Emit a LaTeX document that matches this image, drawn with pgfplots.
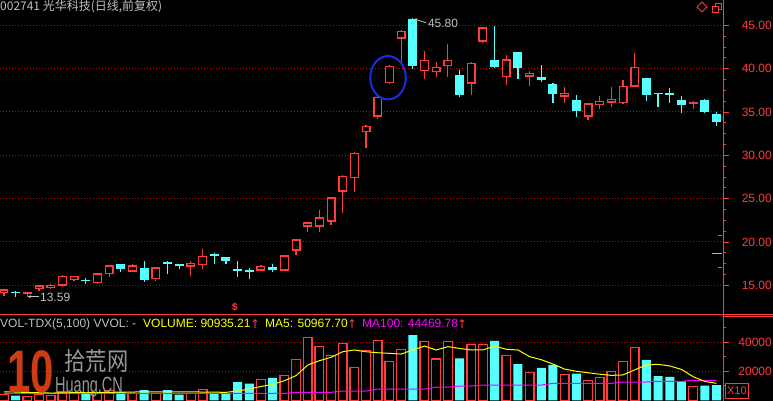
\documentclass[border=0pt]{standalone}
\usepackage{fontspec}
\setmainfont{Liberation Sans}
\newfontfamily\cjk{Noto Sans CJK SC}
\newfontfamily\dejavu{DejaVu Sans}
\usepackage{pgfplots}
\usepackage{pgfplotstable}
\pgfplotsset{compat=1.18}
\usetikzlibrary{arrows.meta}

\definecolor{tdxred}{RGB}{255,59,59}
\definecolor{tdxcyan}{RGB}{84,255,255}
\definecolor{gridred}{RGB}{200,0,0}
\definecolor{txtgray}{RGB}{192,192,192}
\definecolor{tdxyellow}{RGB}{255,255,0}
\definecolor{tdxmag}{RGB}{255,0,255}
\definecolor{ellblue}{RGB}{25,45,225}
\definecolor{wmred}{RGB}{205,60,20}
\definecolor{wmgray}{RGB}{150,150,150}

% up (red, hollow) candles: index, open, high, low, close
\pgfplotstableread{
i o h l c
0 14.08 14.60 13.80 14.54
2 13.96 14.28 13.59 14.23
3 14.54 15.05 14.31 15.00
4 14.65 15.10 14.60 15.03
5 14.95 16.22 14.80 16.07
6 15.58 16.12 15.55 16.07
8 15.23 16.42 15.20 16.38
9 16.30 17.35 15.92 17.31
11 16.57 17.46 16.52 17.31
13 15.73 17.12 15.53 17.08
16 17.15 17.77 16.07 17.61
17 17.31 19.19 16.92 18.38
22 16.68 17.35 16.60 17.28
24 16.68 18.50 16.65 18.46
25 18.99 20.35 18.50 20.31
26 21.76 22.30 21.18 22.27
27 21.76 23.69 21.18 22.85
28 22.34 25.20 21.96 25.15
29 25.80 27.70 23.38 27.65
30 27.35 30.35 25.80 30.30
31 32.65 33.45 30.88 33.41
32 34.45 36.80 34.19 36.76
33 38.31 40.38 38.28 40.34
34 43.46 44.42 40.61 44.38
36 39.73 42.04 38.77 41.00
37 39.61 40.73 39.07 40.23
38 40.31 42.84 39.07 41.00
40 38.26 40.75 36.96 40.69
41 43.11 44.80 42.99 44.77
43 39.00 41.57 38.11 41.08
45 39.07 39.73 38.03 39.50
48 36.76 37.92 36.07 37.22
50 34.45 36.05 34.07 36.00
51 35.80 36.84 35.34 36.27
52 36.07 37.92 35.61 36.50
53 36.00 38.69 35.96 38.03
54 37.92 41.84 37.85 40.23
59 35.88 36.30 35.34 36.15
}\upT

% down (cyan, filled) candles
\pgfplotstableread{
i o h l c
1 14.24 14.38 13.65 14.06
7 15.62 15.88 15.18 15.44
10 17.46 17.50 16.50 16.92
12 17.00 17.84 15.42 15.61
14 17.63 17.84 16.34 17.45
15 17.46 17.50 16.85 17.23
18 18.59 18.76 17.46 18.41
19 18.23 18.27 17.42 17.84
20 16.86 17.80 15.96 16.68
21 16.74 17.03 15.69 16.56
23 17.10 17.46 16.55 16.72
35 45.75 45.80 39.92 40.30
39 39.23 39.84 36.77 36.96
42 41.00 44.92 40.15 40.23
44 41.92 41.96 38.80 40.11
46 39.07 40.42 38.49 38.69
47 38.23 38.30 36.00 37.07
49 36.38 36.96 34.45 35.15
55 38.92 38.95 36.27 36.96
56 37.20 37.22 35.61 37.02
57 37.13 37.80 36.07 36.95
58 36.38 36.84 34.92 35.80
60 36.38 36.45 34.92 35.03
61 34.77 35.03 33.38 33.88
}\dnT

% volume, up days
\pgfplotstableread{
i v
0 4100
2 2500
3 4300
4 3400
5 5700
6 4800
8 5500
9 6600
11 4800
13 4800
16 4800
17 7600
22 14500
24 17200
25 28000
26 43400
27 37200
28 30800
29 39300
30 22500
31 34200
32 41100
33 26600
34 35000
36 40400
37 28500
38 40400
40 38350
41 38350
43 30800
45 19300
48 17900
50 13800
51 15600
52 19700
53 26600
54 36300
59 9400
}\volUp

% volume, down days
\pgfplotstableread{
i v
1 3200
7 4300
10 5700
12 7100
14 7100
15 3900
18 4800
19 4800
20 12600
21 11500
23 15400
35 45000
39 29000
42 40900
44 25000
46 22300
47 24350
49 18350
55 27800
56 16750
57 16070
58 13100
60 10070
61 10550
}\volDn

% volume moving averages
\pgfplotstableread{
i m5 m100
0 5900 4800
1 5700 4800
2 5400 4800
3 5200 4800
4 5000 4800
5 5100 4800
6 5300 4800
7 5200 4800
8 5300 4800
9 5500 4800
10 5600 4800
11 5700 4800
12 5800 4800
13 5800 4800
14 5900 4800
15 5800 4800
16 5800 4800
17 5700 4800
18 5600 4800
19 5500 4800
20 6400 4800
21 7800 4800
22 9500 4800
23 11000 4800
24 13500 4800
25 17000 5500
26 24300 5500
27 27300 5500
28 29650 5500
29 33500 6400
30 34700 6400
31 33500 6400
32 32800 7700
33 32400 7700
34 31900 7700
35 34700 7700
36 37400 7700
37 34700 9000
38 37000 9000
39 35800 9850
40 34700 9850
41 34700 10550
42 37400 10550
43 35200 10550
44 34700 10550
45 30100 10550
46 28000 10550
47 25000 11700
48 21500 11700
49 20000 11700
50 19000 11700
51 18000 11700
52 17200 11700
53 17500 12600
54 21000 12600
55 24500 12600
56 24800 13100
57 23700 13100
58 21300 13100
59 16300 13800
60 13000 13800
61 11700 13800
}\maT

\pgfplotsset{
  candle/.style n args={2}{draw=none, mark=none, forget plot,
    error bars/.cd, y dir=both, y explicit, error mark=none,
    error bar style={draw=#1, line width=#2, solid}},
  tdxaxis/.style={
    width=723pt, scale only axis,
    xmin=-0.342, xmax=61.558,
    axis line style={draw=none},
    xtick=\empty,
    ytick pos=right,
    tick align=outside,
    major tick length=6pt, minor tick length=3pt,
    tick style={draw=tdxred, line width=0.8pt},
    ymajorgrids,
    major grid style={draw=gridred, line width=1pt, dash pattern=on 1pt off 2pt},
    yticklabel pos=right,
    yticklabel style={anchor=east, xshift=43pt, inner sep=0pt, text=tdxred,
      font=\fontsize{12}{12}\selectfont},
  },
}

\begin{document}
\begin{tikzpicture}
\path[use as bounding box, fill=black] (0pt,0pt) rectangle (773pt,401pt);

% ---------------- price panel ----------------
\begin{axis}[tdxaxis,
  at={(0pt,86pt)}, anchor=south west, height=315pt,
  ymin=11.57, ymax=47.92,
  ytick={15,20,...,45}, minor y tick num=3,
  yticklabel={\pgfmathprintnumber[fixed, fixed zerofill, precision=2, assume math mode=true]{\tick}},
]
\addplot[candle={tdxred}{1.2pt}] table[x=i, y=c,
  y error plus expr={\thisrow{h}-\thisrow{c}}, y error minus expr={\thisrow{c}-\thisrow{l}}]{\upT};
\addplot[candle={tdxcyan}{1.2pt}] table[x=i, y=c,
  y error plus expr={\thisrow{h}-\thisrow{c}}, y error minus expr={\thisrow{c}-\thisrow{l}}]{\dnT};
\addplot[candle={tdxred}{9pt}] table[x=i, y=o,
  y error plus expr={\thisrow{c}-\thisrow{o}}, y error minus expr={0}]{\upT};
\addplot[candle={black}{6.4pt}] table[x=i, y expr={\thisrow{o}+0.15},
  y error plus expr={max(0,\thisrow{c}-\thisrow{o}-0.30)}, y error minus expr={0}]{\upT};
\addplot[candle={tdxcyan}{9pt}] table[x=i, y=c,
  y error plus expr={\thisrow{o}-\thisrow{c}}, y error minus expr={0}]{\dnT};

% annotations
\draw[ellblue, line width=2pt] (axis cs:32.88,38.95) ellipse [x radius=17.8pt, y radius=21.7pt];
\draw[txtgray, line width=0.8pt, {Stealth[length=3pt,width=3pt]}-] (axis cs:35,45.80) ++(1.5pt,-0.5pt) -- ++(12pt,-4pt);
\node[anchor=west, inner sep=0pt, text=txtgray, font=\fontsize{12}{12}\selectfont] at ([xshift=15pt,yshift=-4.6pt]axis cs:35,45.80) {45.80};
\draw[txtgray, line width=0.8pt, {Stealth[length=3pt,width=3pt]}-] ([xshift=0.5pt,yshift=0.8pt]axis cs:2,13.59) -- ++(11pt,0pt);
\node[anchor=west, inner sep=0pt, text=txtgray, font=\fontsize{12}{12}\selectfont] at ([xshift=12.6pt,yshift=0.5pt]axis cs:2,13.59) {13.59};
\end{axis}

% ---------------- volume panel ----------------
\begin{axis}[tdxaxis,
  at={(0pt,0pt)}, anchor=south west, height=86pt,
  ymin=-483, ymax=58831,
  ytick={20000,40000}, minor ytick={10000,30000,50000},
  scaled y ticks=false,
  yticklabel={\pgfmathprintnumber[fixed, 1000 sep={}, assume math mode=true]{\tick}},
]
\addplot[ybar, bar width=9pt, bar shift=0pt, fill=tdxcyan, draw=none, forget plot] table[x=i, y=v]{\volDn};
\addplot[ybar, bar width=8.7pt, bar shift=0pt, fill=black, draw=tdxred, line width=1.3pt, forget plot] table[x=i, y=v]{\volUp};
\addplot[tdxmag, line width=1pt, mark=none] table[x=i, y=m100]{\maT};
\addplot[tdxyellow, line width=1pt, mark=none] table[x=i, y=m5]{\maT};
\end{axis}

\begin{scope}[x=1pt, y=1pt]
% right-hand axis line and panel separators
\draw[tdxred, line width=1pt] (723,0) -- (723,401);
\draw[tdxred, line width=1pt] (0,86) -- (773,86);
\draw[tdxred, line width=1pt] (723,84) -- (773,84);

% watermark
\node[anchor=base west, inner sep=0pt, text=wmred, font=\fontsize{60}{60}\selectfont\bfseries, xscale=0.7] at (7,8) {10};
\node[anchor=center, inner sep=0pt, text=wmgray, font=\cjk\fontsize{25}{25}\selectfont, xscale=0.85] at (96.5,40) {拾荒网};
\node[anchor=base west, inner sep=0pt, text=wmgray, font=\fontsize{22}{22}\selectfont, xscale=0.66] at (55,8) {Huang.CN};

% decorations
\node[draw=tdxred, line width=0.8pt, text=tdxred, inner sep=0pt, anchor=south west,
  minimum width=23pt, minimum height=15pt, font=\fontsize{11}{11}\selectfont] at (725,2) {X10};
\draw[tdxred, line width=1pt] (718,165.7) -- (722,165.7);
\draw[tdxyellow!80!black, line width=1pt] (712,147.7) -- (722,147.7);
\draw[green!80!black, line width=1pt] (718,133.7) -- (722,133.7);
\draw[tdxred, line width=0.8pt] (697,394) -- (702,399) -- (707,394) -- (702,389) -- cycle;
\draw[tdxred, line width=0.8pt] (715,392) rectangle (721,398);
\draw[tdxred, line width=0.8pt, fill=black] (712,389) rectangle (718,395);
\node[text=tdxred, inner sep=0pt, font=\fontsize{10}{10}\selectfont\bfseries] at (235,93.5) {\$};

% title
\node[anchor=base west, inner sep=0pt, text=txtgray, font=\cjk\fontsize{12}{12}\selectfont] at (0,390) {002741 光华科技(日线,前复权)};

% volume header
\node[anchor=base west, inner sep=0pt, text=txtgray, font=\fontsize{12}{12}\selectfont] at (0,73) {VOL-TDX(5,100) VVOL: -};
\node[anchor=base west, inner sep=0pt, text=tdxyellow, font=\fontsize{12}{12}\selectfont] at (143,73) {VOLUME: 90935.21};
\node[anchor=base west, inner sep=0pt, text=tdxred, font=\dejavu\fontsize{12}{12}\selectfont] at (250,72) {↑};
\node[anchor=base west, inner sep=0pt, text=tdxyellow, font=\fontsize{12}{12}\selectfont] at (265,73) {MA5: 50967.70};
\node[anchor=base west, inner sep=0pt, text=tdxred, font=\dejavu\fontsize{12}{12}\selectfont] at (347,72) {↑};
\node[anchor=base west, inner sep=0pt, text=tdxmag, font=\fontsize{12}{12}\selectfont] at (362,73) {MA100: 44469.78};
\node[anchor=base west, inner sep=0pt, text=tdxred, font=\dejavu\fontsize{12}{12}\selectfont] at (457,72) {↑};
\end{scope}
\end{tikzpicture}
\end{document}
